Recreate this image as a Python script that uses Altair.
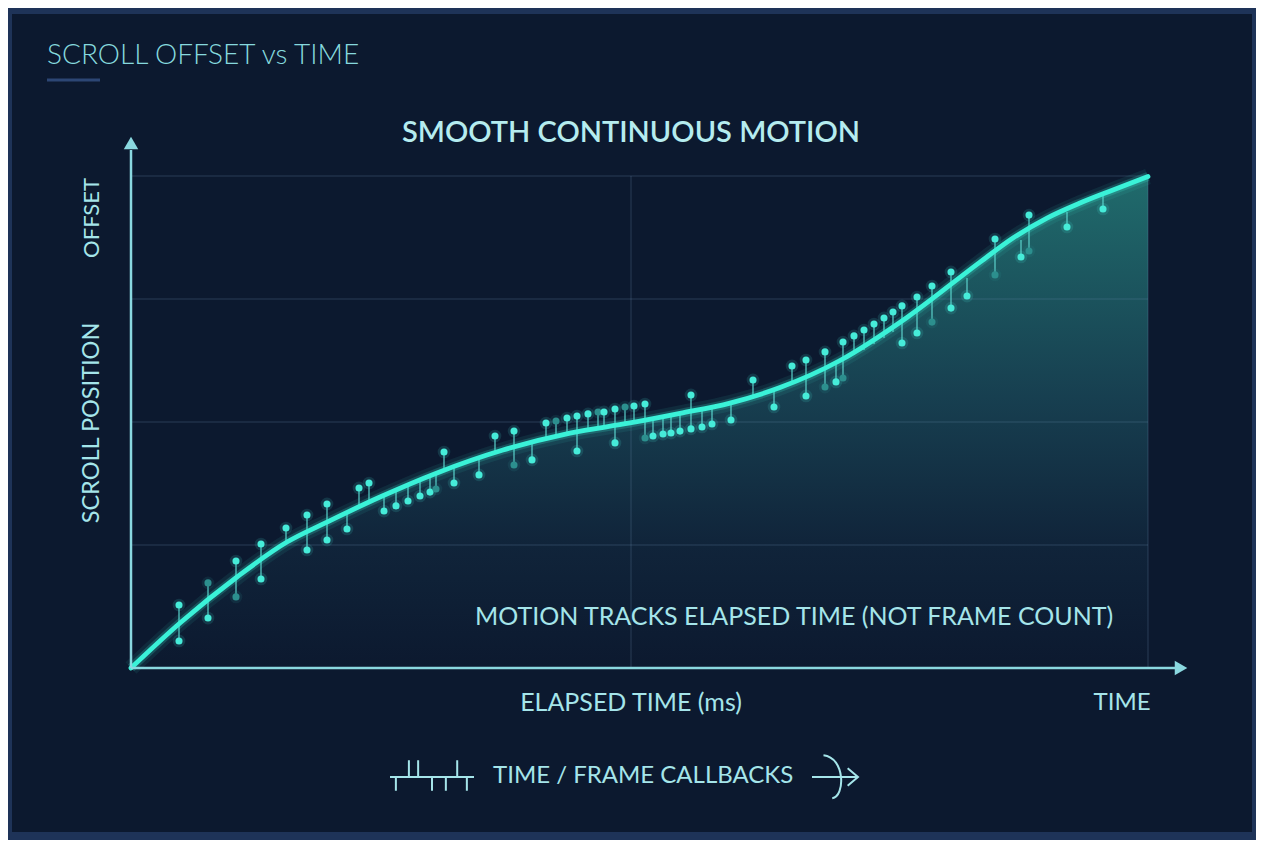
import altair as alt
import pandas as pd

# smooth curve: elapsed time (ms) -> scroll offset (px)
curve_ms = [0, 49, 106, 156, 196, 249, 306, 372, 439, 499, 549, 599, 649, 709,
            776, 849, 882, 916, 949, 982, 1017]
curve_offset = [0, 183, 370, 512, 593, 695, 793, 886, 955, 996, 1035, 1077,
                1140, 1250, 1425, 1650, 1748, 1829, 1890, 1943, 1998]

# frame callbacks: a stem from cb_lo to cb_hi, marker at each end
# ("d" = dot, "f" = faded dot, "-" = no dot, the end sits on the curve)
cb_ms = [48, 77, 105, 130, 155, 176, 196, 216, 228, 238, 253, 265, 277, 289,
         299, 305, 313, 323, 348, 364, 383, 401, 415, 425, 436, 446, 457, 467,
         473, 484, 494, 503, 514, 522, 532, 540, 549, 560, 571, 581, 600, 622,
         643, 661, 675, 694, 705, 712, 723, 733, 743, 753, 762, 771, 786, 801,
         820, 836, 864, 890, 898, 936, 972]
cb_hi = [256, 346, 435, 504, 569, 622, 667, 630, 732, 752, 703, 724, 740, 760,
         776, 785, 878, 813, 850, 943, 963, 911, 996, 1004, 1016, 1024, 1033,
         1041, 1041, 1053, 1061, 1065, 1073, 1012, 1016, 1024, 1033, 1110, 1049,
         1057, 1069, 1171, 1122, 1228, 1252, 1285, 1240, 1325, 1350, 1374, 1398,
         1423, 1447, 1472, 1508, 1553, 1610, 1585, 1744, 1740, 1841, 1854, 1923]
cb_lo = [110, 203, 289, 362, 512, 480, 520, 565, 663, 683, 638, 659, 679, 699,
         715, 728, 801, 752, 785, 870, 825, 846, 927, 939, 951, 882, 963, 971,
         976, 915, 992, 1000, 935, 943, 951, 955, 963, 972, 980, 992, 1008, 1093,
         1061, 1154, 1106, 1142, 1163, 1179, 1272, 1293, 1317, 1341, 1366, 1321,
         1362, 1406, 1463, 1512, 1598, 1671, 1695, 1793, 1866]
cb_hi_mark = ["d", "f", "d", "d", "d", "d", "d", "-", "d", "d", "-", "-", "-",
              "-", "-", "-", "d", "-", "-", "d", "d", "-", "d", "f", "d", "d",
              "d", "f", "d", "d", "f", "d", "d", "-", "-", "-", "-", "d", "-",
              "-", "-", "d", "-", "d", "d", "d", "-", "d", "d", "d", "d", "d",
              "d", "d", "d", "d", "d", "-", "d", "-", "d", "-", "-"]
cb_lo_mark = ["d", "d", "f", "d", "-", "d", "d", "d", "-", "-", "d", "d", "d",
              "d", "d", "f", "-", "d", "d", "-", "f", "d", "-", "-", "-", "d",
              "-", "-", "-", "d", "-", "-", "f", "d", "d", "d", "d", "d", "d",
              "d", "d", "-", "d", "-", "d", "f", "d", "f", "-", "-", "-", "-",
              "-", "d", "d", "f", "d", "d", "f", "d", "f", "d", "d"]

grid_offsets = [500, 1000, 1500, 2000]
grid_ms = [500, 1017]

FONT = "Lato"
FRAME = "#1e3358"
PANEL = "#0c192f"
TEXT = "#a5e5ea"
AXIS = "#8ad8e0"
CURVE = "#3af2d8"
DOT = "#46ecd9"
DOT_FADED = "#2c8f8e"

curve_df = pd.DataFrame({"ms": curve_ms, "offset": curve_offset})
stem_df = pd.DataFrame({"ms": cb_ms, "hi": cb_hi, "lo": cb_lo})
dot_rows = []
for ms, hi, lo, mh, ml in zip(cb_ms, cb_hi, cb_lo, cb_hi_mark, cb_lo_mark):
    if mh != "-":
        dot_rows.append({"ms": ms, "offset": hi, "tone": mh})
    if ml != "-":
        dot_rows.append({"ms": ms, "offset": lo, "tone": ml})
dot_df = pd.DataFrame(dot_rows)
one = pd.DataFrame({"k": [0]})

x_scale = alt.Scale(domain=[0, 1017], nice=False, zero=False)
y_scale = alt.Scale(domain=[0, 2000], nice=False)
X = alt.X("ms:Q", scale=x_scale, axis=None)
Y = alt.Y("offset:Q", scale=y_scale, axis=None)


def label(txt, x, y, size=24, color=TEXT, weight=400, align="center", angle=0,
          baseline="middle"):
    return (
        alt.Chart(one)
        .mark_text(text=txt, font=FONT, fontSize=size, fontWeight=weight,
                   color=color, align=align, baseline=baseline, angle=angle)
        .encode(x=alt.value(x), y=alt.value(y))
    )


panel = alt.Chart(one).mark_rect(color=PANEL).encode(
    x=alt.value(-119), x2=alt.value(1121), y=alt.value(-162), y2=alt.value(656)
)

area = (
    alt.Chart(curve_df)
    .mark_area(
        interpolate="monotone",
        color=alt.Gradient(
            gradient="linear",
            stops=[
                alt.GradientStop(color="#206b6c", offset=0),
                alt.GradientStop(color="#173f50", offset=0.45),
                alt.GradientStop(color="#10243a", offset=0.75),
                alt.GradientStop(color=PANEL, offset=1),
            ],
            x1=0, x2=0, y1=0, y2=1,
        ),
    )
    .encode(x=X, y=Y)
)

hgrid = (
    alt.Chart(pd.DataFrame({"offset": grid_offsets}))
    .mark_rule(color="#6a8fb0", opacity=0.3, strokeWidth=1)
    .encode(y=Y)
)
vgrid = (
    alt.Chart(pd.DataFrame({"ms": grid_ms}))
    .mark_rule(color="#6a8fb0", opacity=0.3, strokeWidth=1)
    .encode(x=X)
)

stems = (
    alt.Chart(stem_df)
    .mark_rule(color="#5cd2cc", opacity=0.75, strokeWidth=1.6)
    .encode(x=X, y=alt.Y("lo:Q", scale=y_scale, axis=None), y2="hi:Q")
)

glow_wide = alt.Chart(curve_df).mark_line(
    interpolate="monotone", color=CURVE, strokeWidth=16, opacity=0.08
).encode(x=X, y=Y)
glow = alt.Chart(curve_df).mark_line(
    interpolate="monotone", color=CURVE, strokeWidth=9, opacity=0.2
).encode(x=X, y=Y)
curve = alt.Chart(curve_df).mark_line(
    interpolate="monotone", color=CURVE, strokeWidth=4.8, strokeCap="round"
).encode(x=X, y=Y)

tone = alt.Color("tone:N", scale=alt.Scale(domain=["d", "f"], range=[DOT, DOT_FADED]),
                 legend=None)
dot_glow = alt.Chart(dot_df).mark_circle(size=160, opacity=0.14).encode(
    x=X, y=Y, color=tone
)
dots = alt.Chart(dot_df).mark_circle(size=50, opacity=1).encode(x=X, y=Y, color=tone)

# axes with arrow heads
y_axis = alt.Chart(one).mark_rule(color=AXIS, strokeWidth=2.5).encode(
    x=alt.value(0), y=alt.value(492), y2=alt.value(-26)
)
y_head = alt.Chart(one).mark_point(
    shape="triangle-up", filled=True, color=AXIS, size=210, opacity=1
).encode(x=alt.value(0), y=alt.value(-33))
x_axis = alt.Chart(one).mark_rule(color=AXIS, strokeWidth=2.5).encode(
    x=alt.value(0), x2=alt.value(1046), y=alt.value(492)
)
x_head = alt.Chart(one).mark_point(
    shape="triangle-right", filled=True, color=AXIS, size=210, opacity=1
).encode(x=alt.value(1050), y=alt.value(492))

underline = alt.Chart(one).mark_rule(color="#2c4674", strokeWidth=3).encode(
    x=alt.value(-84), x2=alt.value(-31), y=alt.value(-96)
)

tick_icon = alt.Chart(one).mark_point(
    shape=("M-1,0L1,0M-0.55,0L-0.55,-0.4M-0.33,0L-0.33,-0.4M0.6,0L0.6,-0.4"
           "M-0.86,0L-0.86,0.33M0,0L0,0.33M0.33,0L0.33,0.33M0.83,0L0.83,0.33"),
    filled=False, color=TEXT, strokeWidth=2, size=7056, opacity=1,
).encode(x=alt.value(301), y=alt.value(601))
arrow_icon = alt.Chart(one).mark_point(
    shape=("M-1,0L1,0M0.55,-0.38L1,0L0.55,0.38"
           "M-0.5,-0.95C0.45,-0.85 0.45,0.85 -0.12,0.92"),
    filled=False, color=TEXT, strokeWidth=2, size=2116, opacity=1,
).encode(x=alt.value(704), y=alt.value(601))

texts = [
    label("SCROLL OFFSET vs TIME", -84, -112, size=28, color="#86d9de",
          weight=300, align="left", baseline="alphabetic"),
    label("SMOOTH CONTINUOUS MOTION", 500, -43, size=29, color="#b5ecef",
          weight=600),
    label("OFFSET", -39, 42, size=22, angle=270),
    label("SCROLL POSITION", -39, 247, size=23.5, angle=270),
    label("MOTION TRACKS ELAPSED TIME (NOT FRAME COUNT)", 344, 441, size=25,
          align="left"),
    label("ELAPSED TIME (ms)", 500, 527, size=25),
    label("TIME", 991, 527, size=24),
    label("TIME / FRAME CALLBACKS", 362, 600, size=24, align="left"),
]

chart = (
    alt.layer(
        panel, area, hgrid, vgrid, stems, glow_wide, glow, curve, dot_glow, dots,
        y_axis, y_head, x_axis, x_head, underline, tick_icon, arrow_icon, *texts,
    )
    .properties(
        width=1017,
        height=492,
        autosize=alt.AutoSizeParams(type="none"),
        padding={"left": 123, "top": 168, "right": 108, "bottom": 172},
        background=FRAME,
    )
    .configure_view(strokeWidth=0)
)

chart.save("out.html", embed_options={"renderer": "svg", "actions": False})
